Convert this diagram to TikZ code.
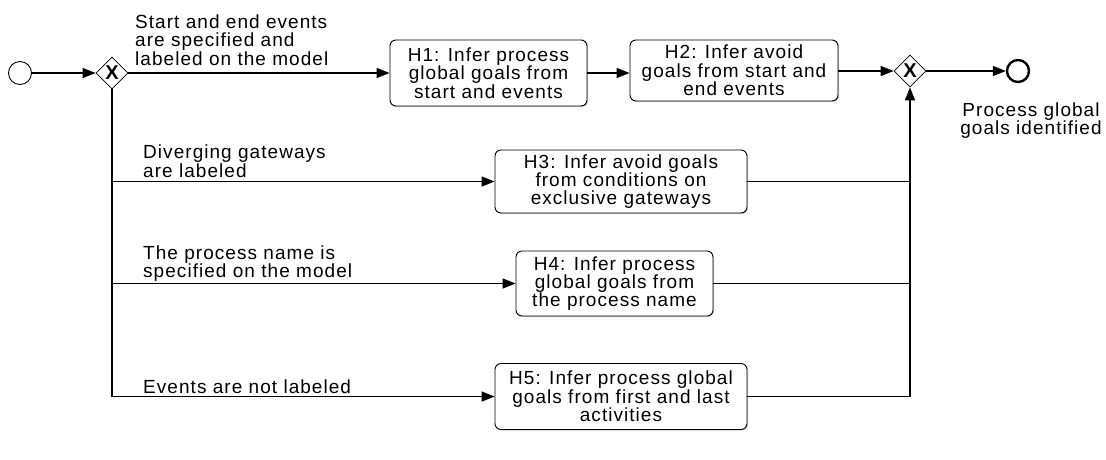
\documentclass[tikz,border=0pt]{standalone}
\usepackage{fontspec}
\setmainfont{Liberation Sans}[LetterSpace=5.5]
\usetikzlibrary{arrows.meta,shapes.geometric,shadows}

\begin{document}
\begin{tikzpicture}[x=1pt,y=-1pt,
  every node/.style={font=\fontsize{19}{18.4}\selectfont},
  task/.style={draw, rounded corners=6pt, line width=0.9pt, fill=white,
    align=center, inner sep=0pt,
    drop shadow={shadow xshift=1pt,shadow yshift=-1pt,fill=black!40}},
  gate/.style={draw, diamond, aspect=1, minimum width=32pt, minimum height=32pt,
    inner sep=0pt, line width=0.8pt, fill=white,
    font=\fontsize{20}{20}\selectfont\bfseries},
  startev/.style={draw, circle, minimum size=23pt, inner sep=0pt, line width=0.9pt},
  endev/.style={draw, circle, minimum size=22pt, inner sep=0pt, line width=2.4pt},
  flow/.style={line width=1.5pt, -{Triangle[length=13pt,width=10pt]}},
  seq/.style={line width=1.5pt},
  cond/.style={anchor=north west, align=left, inner sep=0pt},
]
\useasboundingbox (0,0) rectangle (1106,459);

% events and gateways
\node[startev] (start) at (20,73) {};
\node[gate] (split) at (112,73) {X};
\node[gate] (join) at (910,71) {X};
\node[endev] (stop) at (1018,71) {};

% heuristics
\node[task, minimum width=197pt, minimum height=66pt] (h1) at (488.5,73)
  {H1: Infer process\\global goals from\\start and events};
\node[task, minimum width=208pt, minimum height=61pt] (h2) at (734,70.5)
  {H2: Infer avoid\\goals from start and\\end events};
\node[task, minimum width=252pt, minimum height=63pt] (h3) at (621,181.5)
  {H3: Infer avoid goals\\from conditions on\\exclusive gateways};
\node[task, minimum width=197pt, minimum height=65pt] (h4) at (614.5,283.5)
  {H4: Infer process\\global goals from\\the process name};
\node[task, minimum width=252pt, minimum height=66pt] (h5) at (621,396.5)
  {H5: Infer process global\\goals from first and last\\activities};

% conditions on the outgoing flows
\node[cond] (c1) at (135,14.6) {Start and end events\\are specified and\\labeled on the model};
\node[cond] (c2) at (143,145) {Diverging gateways\\are labeled};
\node[cond] (c3) at (143,245.6) {The process name is\\specified on the model};
\node[cond] (c4) at (143,379.2) {Events are not labeled};
\node[anchor=north, align=center, inner sep=0pt] (goal) at (1031,102.4)
  {Process global\\goals identified};

% main path
\draw[flow] (start) -- (split);
\draw[flow] (split) -- (h1);
\draw[flow] (h1.east) -- (h1.east -| h2.west);
\draw[flow] (h2.east |- join) -- (join);
\draw[flow] (join) -- (stop);

% diverging branches
\draw[flow] (split.south) |- (h5.west);
\draw[flow] (split.south |- h3.west) -- (h3.west);
\draw[flow] (split.south |- h4.west) -- (h4.west);

% converging branches
\draw[flow] (h5.east) -| (join.south);
\draw[seq] (h3.east) -- (h3.east -| join.south);
\draw[seq] (h4.east) -- (h4.east -| join.south);
\end{tikzpicture}
\end{document}
